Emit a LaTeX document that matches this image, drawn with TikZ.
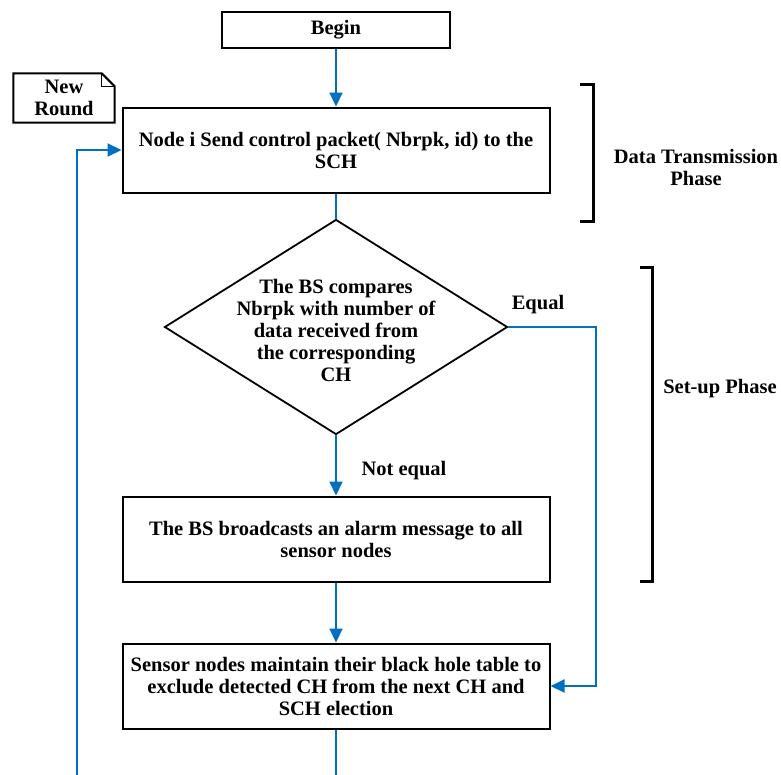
\documentclass[tikz,border=0pt]{standalone}
\usepackage{fontspec}
\setmainfont{Liberation Serif}
\usetikzlibrary{shapes,arrows.meta,positioning}
\definecolor{flowblue}{RGB}{0,112,192}

\begin{document}
\begin{tikzpicture}[x=1pt, y=-1pt,
    every node/.style={font=\fontsize{20.5}{22}\selectfont\bfseries, align=center},
    procbox/.style={draw, rectangle, line width=2pt, minimum width=427pt, minimum height=85pt, inner sep=2pt},
    decision/.style={draw, diamond, line width=1.8pt, minimum width=343pt, minimum height=215pt, inner sep=0pt},
    flow/.style={draw=flowblue, line width=2pt, -{Triangle[length=14pt, width=13pt]}},
    flowline/.style={draw=flowblue, line width=2pt},
    phase/.style={line width=3pt}]
    \useasboundingbox (0,0) rectangle (781,774);
    \clip (0,0) rectangle (781,774);

    \node[draw, rectangle, line width=2pt, minimum width=228pt, minimum height=36pt] (begin) at (336,30) {Begin};
    \node[procbox] (send) at (336,150) {Node i Send control packet( Nbrpk, id) to the\\SCH};
    \node[decision] (cmp) at (336,327) {};
    \node (cmptext) at (336,330) {The BS compares\\Nbrpk with number of\\data received from\\the corresponding\\CH};
    \node[procbox] (alarm) at (336,539) {The BS broadcasts an alarm message to all\\sensor nodes};
    \node[procbox] (table) at (336,686) {Sensor nodes maintain their black hole table to\\exclude detected CH from the next CH and\\SCH election};

    % note with folded corner
    \node[minimum width=101pt, minimum height=49pt, inner sep=0pt] (note) at (64,98) {New\\Round};
    \draw[line width=2pt] (note.south west) -- (note.north west) -- ([xshift=-13pt]note.north east)
        -- ([yshift=-13pt]note.north east) -- (note.south east) -- cycle;
    \draw[line width=1.2pt] ([xshift=-13pt]note.north east) -- ([xshift=-13pt, yshift=-13pt]note.north east)
        -- ([yshift=-13pt]note.north east);

    \coordinate (eqturn) at (596,327);
    \coordinate (loopcorner) at (77,800);

    \draw[flow] (begin) -- (send);
    \draw[flowline] (send) -- (cmp.north);
    \draw[flow] (cmp.south) -- (alarm);
    \draw[flow] (alarm) -- (table);
    \draw[flow] (cmp.east) -- (eqturn) |- (table.east);
    \draw[flow] (table.south) |- (loopcorner) |- (send.west);

    \node (equal) at (538,305) {Equal};
    \node (noteq) at (404,471) {Not equal};

    % phase brackets
    \draw[phase] (580,84) -- (593,84) -- (593,221) -- (580,221);
    \node (dtphase) at (696,167) {Data Transmission\\Phase};
    \draw[phase] (640,267) -- (652,267) -- (652,581) -- (640,581);
    \node (suphase) at (720,389) {Set-up Phase};
\end{tikzpicture}
\end{document}
